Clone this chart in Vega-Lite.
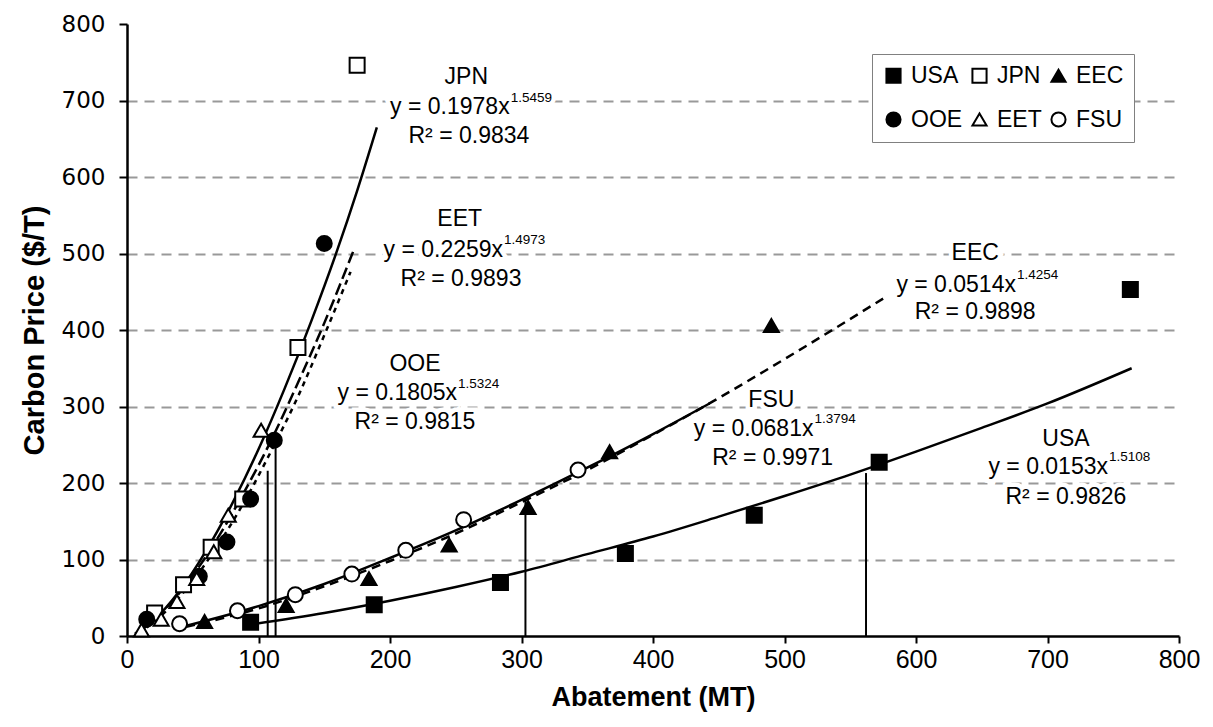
{
  "$schema": "https://vega.github.io/schema/vega-lite/v6.json",
  "width": 1052,
  "height": 612,
  "autosize": {"type": "none"},
  "padding": {"left": 127, "top": 24, "right": 34, "bottom": 91},
  "background": "white",
  "config": {"view": {"stroke": null}},
  "datasets": {
    "points": [
      {"series": "USA", "abatement": 94, "price": 18},
      {"series": "USA", "abatement": 188, "price": 41},
      {"series": "USA", "abatement": 284, "price": 70},
      {"series": "USA", "abatement": 379, "price": 108},
      {"series": "USA", "abatement": 477, "price": 158},
      {"series": "USA", "abatement": 572, "price": 227},
      {"series": "USA", "abatement": 763, "price": 453},
      {"series": "JPN", "abatement": 21, "price": 30},
      {"series": "JPN", "abatement": 43, "price": 67},
      {"series": "JPN", "abatement": 64, "price": 116},
      {"series": "JPN", "abatement": 88, "price": 179},
      {"series": "JPN", "abatement": 130, "price": 377},
      {"series": "JPN", "abatement": 175, "price": 746},
      {"series": "EEC", "abatement": 59, "price": 19},
      {"series": "EEC", "abatement": 121, "price": 40},
      {"series": "EEC", "abatement": 184, "price": 75},
      {"series": "EEC", "abatement": 245, "price": 119},
      {"series": "EEC", "abatement": 305, "price": 168},
      {"series": "EEC", "abatement": 367, "price": 241},
      {"series": "EEC", "abatement": 490, "price": 406},
      {"series": "OOE", "abatement": 15, "price": 22},
      {"series": "OOE", "abatement": 55, "price": 78},
      {"series": "OOE", "abatement": 76, "price": 123},
      {"series": "OOE", "abatement": 94, "price": 179},
      {"series": "OOE", "abatement": 112, "price": 256},
      {"series": "OOE", "abatement": 150, "price": 513},
      {"series": "EET", "abatement": 11, "price": 8},
      {"series": "EET", "abatement": 26, "price": 22},
      {"series": "EET", "abatement": 38, "price": 45},
      {"series": "EET", "abatement": 53, "price": 75},
      {"series": "EET", "abatement": 66, "price": 110},
      {"series": "EET", "abatement": 77, "price": 158},
      {"series": "EET", "abatement": 102, "price": 269},
      {"series": "FSU", "abatement": 40, "price": 16},
      {"series": "FSU", "abatement": 84, "price": 33},
      {"series": "FSU", "abatement": 128, "price": 54},
      {"series": "FSU", "abatement": 171, "price": 81},
      {"series": "FSU", "abatement": 212, "price": 112},
      {"series": "FSU", "abatement": 256, "price": 152},
      {"series": "FSU", "abatement": 343, "price": 217}
    ],
    "trend": [
      {"series": "JPN", "abatement": 6, "price": 3},
      {"series": "JPN", "abatement": 20, "price": 20},
      {"series": "JPN", "abatement": 40, "price": 59},
      {"series": "JPN", "abatement": 60, "price": 111},
      {"series": "JPN", "abatement": 80, "price": 173},
      {"series": "JPN", "abatement": 100, "price": 244},
      {"series": "JPN", "abatement": 120, "price": 324},
      {"series": "JPN", "abatement": 140, "price": 411},
      {"series": "JPN", "abatement": 160, "price": 505},
      {"series": "JPN", "abatement": 175, "price": 582},
      {"series": "JPN", "abatement": 190, "price": 665},
      {"series": "EET", "abatement": 11, "price": 8},
      {"series": "EET", "abatement": 30, "price": 37},
      {"series": "EET", "abatement": 50, "price": 79},
      {"series": "EET", "abatement": 70, "price": 131},
      {"series": "EET", "abatement": 90, "price": 191},
      {"series": "EET", "abatement": 110, "price": 257},
      {"series": "EET", "abatement": 130, "price": 331},
      {"series": "EET", "abatement": 150, "price": 409},
      {"series": "EET", "abatement": 173, "price": 507},
      {"series": "OOE", "abatement": 15, "price": 11},
      {"series": "OOE", "abatement": 30, "price": 33},
      {"series": "OOE", "abatement": 50, "price": 72},
      {"series": "OOE", "abatement": 70, "price": 121},
      {"series": "OOE", "abatement": 90, "price": 178},
      {"series": "OOE", "abatement": 110, "price": 243},
      {"series": "OOE", "abatement": 130, "price": 313},
      {"series": "OOE", "abatement": 150, "price": 393},
      {"series": "OOE", "abatement": 170, "price": 476},
      {"series": "EEC", "abatement": 45, "price": 12},
      {"series": "EEC", "abatement": 100, "price": 36},
      {"series": "EEC", "abatement": 150, "price": 65},
      {"series": "EEC", "abatement": 200, "price": 98},
      {"series": "EEC", "abatement": 250, "price": 134},
      {"series": "EEC", "abatement": 300, "price": 175},
      {"series": "EEC", "abatement": 350, "price": 217},
      {"series": "EEC", "abatement": 400, "price": 263},
      {"series": "EEC", "abatement": 450, "price": 311},
      {"series": "EEC", "abatement": 500, "price": 362},
      {"series": "EEC", "abatement": 575, "price": 441},
      {"series": "FSU", "abatement": 40, "price": 11},
      {"series": "FSU", "abatement": 100, "price": 39},
      {"series": "FSU", "abatement": 150, "price": 68},
      {"series": "FSU", "abatement": 200, "price": 102},
      {"series": "FSU", "abatement": 250, "price": 138},
      {"series": "FSU", "abatement": 300, "price": 178},
      {"series": "FSU", "abatement": 350, "price": 220},
      {"series": "FSU", "abatement": 400, "price": 264},
      {"series": "FSU", "abatement": 443, "price": 304},
      {"series": "USA", "abatement": 94, "price": 15},
      {"series": "USA", "abatement": 150, "price": 30},
      {"series": "USA", "abatement": 200, "price": 46},
      {"series": "USA", "abatement": 250, "price": 64},
      {"series": "USA", "abatement": 300, "price": 84},
      {"series": "USA", "abatement": 350, "price": 107},
      {"series": "USA", "abatement": 400, "price": 130},
      {"series": "USA", "abatement": 450, "price": 156},
      {"series": "USA", "abatement": 500, "price": 183},
      {"series": "USA", "abatement": 550, "price": 211},
      {"series": "USA", "abatement": 600, "price": 241},
      {"series": "USA", "abatement": 650, "price": 272},
      {"series": "USA", "abatement": 700, "price": 304},
      {"series": "USA", "abatement": 764, "price": 350}
    ],
    "drops": [
      {"abatement": 107, "price": 216},
      {"abatement": 113, "price": 250},
      {"abatement": 303, "price": 180},
      {"abatement": 562, "price": 213}
    ],
    "labels": [
      {"series": "JPN", "kind": "title", "abatement": 258, "price": 721, "text": "JPN"},
      {"series": "JPN", "kind": "eq", "abatement": 291, "price": 682, "text": "y = 0.1978x"},
      {"series": "JPN", "kind": "exp", "abatement": 291, "price": 682, "text": "1.5459"},
      {"series": "JPN", "kind": "r2", "abatement": 260, "price": 644, "text": "R² = 0.9834"},
      {"series": "EET", "kind": "title", "abatement": 253, "price": 536, "text": "EET"},
      {"series": "EET", "kind": "eq", "abatement": 286, "price": 496, "text": "y = 0.2259x"},
      {"series": "EET", "kind": "exp", "abatement": 286, "price": 496, "text": "1.4973"},
      {"series": "EET", "kind": "r2", "abatement": 254, "price": 458, "text": "R² = 0.9893"},
      {"series": "OOE", "kind": "title", "abatement": 219, "price": 347, "text": "OOE"},
      {"series": "OOE", "kind": "eq", "abatement": 251, "price": 308, "text": "y = 0.1805x"},
      {"series": "OOE", "kind": "exp", "abatement": 251, "price": 308, "text": "1.5324"},
      {"series": "OOE", "kind": "r2", "abatement": 219, "price": 271, "text": "R² = 0.9815"},
      {"series": "EEC", "kind": "title", "abatement": 645, "price": 491, "text": "EEC"},
      {"series": "EEC", "kind": "eq", "abatement": 676, "price": 450, "text": "y = 0.0514x"},
      {"series": "EEC", "kind": "exp", "abatement": 676, "price": 450, "text": "1.4254"},
      {"series": "EEC", "kind": "r2", "abatement": 645, "price": 415, "text": "R² = 0.9898"},
      {"series": "FSU", "kind": "title", "abatement": 490, "price": 299, "text": "FSU"},
      {"series": "FSU", "kind": "eq", "abatement": 522, "price": 262, "text": "y = 0.0681x"},
      {"series": "FSU", "kind": "exp", "abatement": 522, "price": 262, "text": "1.3794"},
      {"series": "FSU", "kind": "r2", "abatement": 491, "price": 223, "text": "R² = 0.9971"},
      {"series": "USA", "kind": "title", "abatement": 714, "price": 249, "text": "USA"},
      {"series": "USA", "kind": "eq", "abatement": 746, "price": 212, "text": "y = 0.0153x"},
      {"series": "USA", "kind": "exp", "abatement": 746, "price": 212, "text": "1.5108"},
      {"series": "USA", "kind": "r2", "abatement": 714, "price": 173, "text": "R² = 0.9826"}
    ]
  },
  "layer": [
    {
      "data": {"name": "drops"},
      "mark": {"type": "rule", "color": "black", "strokeWidth": 2},
      "encoding": {
        "x": {
          "field": "abatement", "type": "quantitative",
          "scale": {"domain": [0, 800], "nice": false, "zero": false},
          "axis": {
            "title": "Abatement (MT)",
            "values": [0, 100, 200, 300, 400, 500, 600, 700, 800],
            "grid": false, "labelFlush": false, "labelOverlap": false,
            "domainColor": "black", "domainWidth": 2.5,
            "tickColor": "black", "tickWidth": 2, "tickSize": 7,
            "labelFont": "Liberation Sans", "labelFontSize": 25, "labelColor": "black", "labelPadding": 4,
            "titleFont": "Liberation Sans", "titleFontWeight": "bold", "titleFontSize": 27, "titleColor": "black", "titlePadding": 12
          }
        },
        "y": {
          "field": "price", "type": "quantitative",
          "scale": {"domain": [0, 800], "nice": false, "zero": false},
          "axis": {
            "title": "Carbon Price ($/T)",
            "values": [0, 100, 200, 300, 400, 500, 600, 700, 800],
            "grid": true, "gridColor": "#999999", "gridDash": [10, 7], "gridWidth": 2,
            "gridOpacity": {"condition": {"test": "datum.value >= 800 || datum.value <= 0", "value": 0}, "value": 1},
            "labelOverlap": false,
            "domainColor": "black", "domainWidth": 2.5,
            "tickColor": "black", "tickWidth": 2, "tickSize": 8,
            "labelFont": "DejaVu Sans", "labelFontSize": 23, "labelColor": "black", "labelPadding": 14,
            "titleFont": "Liberation Sans", "titleFontWeight": "bold", "titleFontSize": 29, "titleColor": "black", "titlePadding": 12
          }
        },
        "y2": {"datum": 0}
      }
    },
    {
      "data": {"name": "trend"},
      "transform": [{"filter": "datum.series == 'JPN' || datum.series == 'FSU' || datum.series == 'USA'"}],
      "mark": {"type": "line", "color": "black", "strokeWidth": 2.5, "interpolate": "monotone"},
      "encoding": {
        "x": {"field": "abatement", "type": "quantitative"},
        "y": {"field": "price", "type": "quantitative"},
        "detail": {"field": "series", "type": "nominal"}
      }
    },
    {
      "data": {"name": "trend"},
      "transform": [{"filter": "datum.series == 'EEC'"}],
      "mark": {"type": "line", "color": "black", "strokeWidth": 2.5, "strokeDash": [9, 6], "interpolate": "monotone"},
      "encoding": {
        "x": {"field": "abatement", "type": "quantitative"},
        "y": {"field": "price", "type": "quantitative"}
      }
    },
    {
      "data": {"name": "trend"},
      "transform": [{"filter": "datum.series == 'EET'"}],
      "mark": {"type": "line", "color": "black", "strokeWidth": 2.5, "strokeDash": [12, 5], "interpolate": "monotone"},
      "encoding": {
        "x": {"field": "abatement", "type": "quantitative"},
        "y": {"field": "price", "type": "quantitative"}
      }
    },
    {
      "data": {"name": "trend"},
      "transform": [{"filter": "datum.series == 'OOE'"}],
      "mark": {"type": "line", "color": "black", "strokeWidth": 2.5, "strokeDash": [5, 5], "interpolate": "monotone"},
      "encoding": {
        "x": {"field": "abatement", "type": "quantitative"},
        "y": {"field": "price", "type": "quantitative"}
      }
    },
    {
      "data": {"name": "points"},
      "mark": {"type": "point", "filled": true, "stroke": "black", "strokeWidth": 2, "size": 225, "opacity": 1},
      "encoding": {
        "x": {"field": "abatement", "type": "quantitative"},
        "y": {"field": "price", "type": "quantitative"},
        "shape": {
          "field": "series", "type": "nominal",
          "scale": {"domain": ["USA", "JPN", "EEC", "OOE", "EET", "FSU"], "range": ["square", "square", "triangle-up", "circle", "triangle-up", "circle"]},
          "legend": {
            "title": null, "orient": "none", "legendX": 745, "legendY": 30, "direction": "horizontal", "columns": 3, "gridAlign": "each",
            "symbolSize": 200, "symbolStrokeWidth": 2,
            "labelFont": "Liberation Sans", "labelFontSize": 23, "labelColor": "black", "labelOffset": 6,
            "padding": 10, "rowPadding": 20, "columnPadding": 5,
            "strokeColor": "#808080", "fillColor": "white",
            "encoding": {"symbols": {"stroke": {"value": "black"}, "strokeWidth": {"value": 2}}}
          }
        },
        "fill": {
          "field": "series", "type": "nominal",
          "scale": {"domain": ["USA", "JPN", "EEC", "OOE", "EET", "FSU"], "range": ["black", "white", "black", "black", "white", "white"]},
          "legend": {
            "title": null, "orient": "none", "legendX": 745, "legendY": 30, "direction": "horizontal", "columns": 3, "gridAlign": "each",
            "symbolSize": 200, "symbolStrokeWidth": 2,
            "labelFont": "Liberation Sans", "labelFontSize": 23, "labelColor": "black", "labelOffset": 6,
            "padding": 10, "rowPadding": 20, "columnPadding": 5,
            "strokeColor": "#808080", "fillColor": "white",
            "encoding": {"symbols": {"stroke": {"value": "black"}, "strokeWidth": {"value": 2}}}
          }
        }
      }
    },
    {
      "data": {"name": "labels"},
      "transform": [{"filter": "datum.kind == 'title' || datum.kind == 'r2'"}],
      "mark": {"type": "text", "align": "center", "baseline": "alphabetic", "font": "Liberation Sans", "fontSize": 23, "color": "white", "stroke": "white", "strokeWidth": 9},
      "encoding": {
        "x": {"field": "abatement", "type": "quantitative"},
        "y": {"field": "price", "type": "quantitative"},
        "text": {"field": "text"}
      }
    },
    {
      "data": {"name": "labels"},
      "transform": [{"filter": "datum.kind == 'eq'"}],
      "mark": {"type": "text", "align": "right", "baseline": "alphabetic", "font": "Liberation Sans", "fontSize": 23, "color": "white", "stroke": "white", "strokeWidth": 9},
      "encoding": {
        "x": {"field": "abatement", "type": "quantitative"},
        "y": {"field": "price", "type": "quantitative"},
        "text": {"field": "text"}
      }
    },
    {
      "data": {"name": "labels"},
      "transform": [{"filter": "datum.kind == 'exp'"}],
      "mark": {"type": "text", "align": "left", "baseline": "alphabetic", "font": "Liberation Sans", "fontSize": 13.5, "dx": 1, "dy": -12.5, "color": "white", "stroke": "white", "strokeWidth": 9},
      "encoding": {
        "x": {"field": "abatement", "type": "quantitative"},
        "y": {"field": "price", "type": "quantitative"},
        "text": {"field": "text"}
      }
    },
    {
      "data": {"name": "labels"},
      "transform": [{"filter": "datum.kind == 'title' || datum.kind == 'r2'"}],
      "mark": {"type": "text", "align": "center", "baseline": "alphabetic", "font": "Liberation Sans", "fontSize": 23, "color": "black"},
      "encoding": {
        "x": {"field": "abatement", "type": "quantitative"},
        "y": {"field": "price", "type": "quantitative"},
        "text": {"field": "text"}
      }
    },
    {
      "data": {"name": "labels"},
      "transform": [{"filter": "datum.kind == 'eq'"}],
      "mark": {"type": "text", "align": "right", "baseline": "alphabetic", "font": "Liberation Sans", "fontSize": 23, "color": "black"},
      "encoding": {
        "x": {"field": "abatement", "type": "quantitative"},
        "y": {"field": "price", "type": "quantitative"},
        "text": {"field": "text"}
      }
    },
    {
      "data": {"name": "labels"},
      "transform": [{"filter": "datum.kind == 'exp'"}],
      "mark": {"type": "text", "align": "left", "baseline": "alphabetic", "font": "Liberation Sans", "fontSize": 13.5, "dx": 1, "dy": -12.5, "color": "black"},
      "encoding": {
        "x": {"field": "abatement", "type": "quantitative"},
        "y": {"field": "price", "type": "quantitative"},
        "text": {"field": "text"}
      }
    }
  ]
}
